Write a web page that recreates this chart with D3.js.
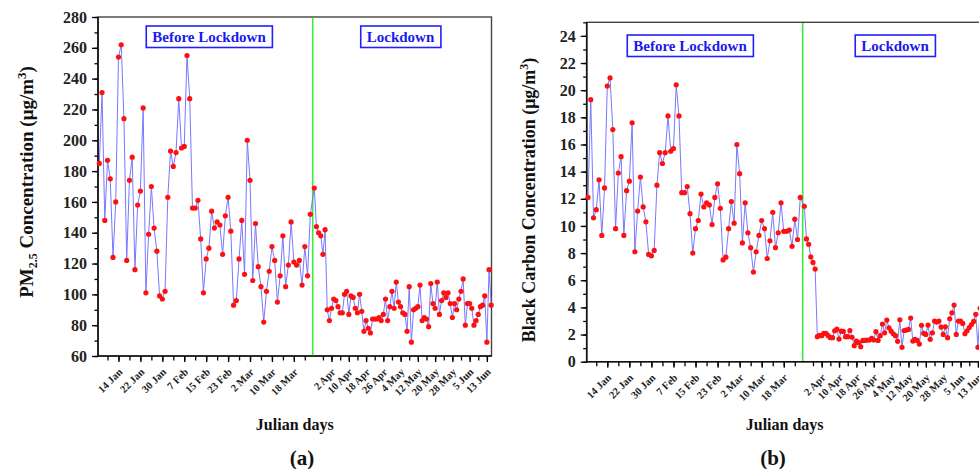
<!DOCTYPE html>
<html>
<head>
<meta charset="utf-8">
<script src="https://cdn.jsdelivr.net/npm/d3@7"></script>
<style>
body { margin: 0; background: #fff; }
svg text { font-family: "Liberation Serif", "Times New Roman", serif; font-weight: bold; }
</style>
</head>
<body>
<svg width="979" height="469"></svg>
<script>
// daily series, 7 Jan -> 15 Jun 2020, lockdown from 25 Mar
var firstDay = "7 Jan 2020", lockdownDay = "25 Mar 2020", lastDay = "15 Jun 2020";

var beforeTickLabels = ["14 Jan", "22 Jan", "30 Jan", "7 Feb", "15 Feb", "23 Feb", "2 Mar", "10 Mar", "18 Mar"];
var lockTickLabels = ["2 Apr", "10 Apr", "18 Apr", "26 Apr", "4 May", "12 May", "20 May", "28 May", "5 Jun", "13 Jun"];

var pmBefore = [185, 231, 148, 187, 175, 124, 160, 254, 262, 214,
  122, 174, 189, 116, 158, 167, 221, 101, 139, 170,
  143, 128, 99, 97, 102, 163, 193, 183, 192, 227,
  195, 196, 255, 227, 156, 156, 161, 136, 101, 123,
  130, 154, 143, 147, 145, 126, 151, 163, 141, 93,
  96, 123, 148, 113, 200, 174, 109, 146, 118, 105,
  82, 102, 115, 131, 122, 95, 112, 138, 105, 119,
  147, 121, 119, 122, 106, 131, 112, 152];
var pmLock = [169, 144, 140, 138, 126, 142, 90, 83, 91, 97,
  96, 92, 88, 88, 100, 102, 87, 99, 98, 91,
  88, 100, 89, 76, 83, 78, 75, 84, 84, 84,
  85, 83, 87, 97, 83, 92, 102, 91, 108, 95,
  92, 88, 87, 76, 105, 69, 90, 91, 92, 106,
  83, 85, 84, 79, 107, 94, 91, 108, 87, 96,
  101, 98, 101, 94, 85, 94, 90, 97, 102, 110,
  80, 94, 94, 91, 80, 83, 87, 92, 93, 99,
  69, 116, 93];

var bcBefore = [12.1, 19.3, 10.6, 11.2, 13.4, 9.3, 12.8, 20.3, 20.9, 17.1,
  9.8, 13.9, 15.1, 9.3, 12.6, 13.3, 17.6, 8.1, 11.1, 13.6,
  11.4, 10.3, 7.9, 7.8, 8.2, 13.0, 15.4, 14.6, 15.4, 18.1,
  15.5, 15.7, 20.4, 18.1, 12.45, 12.45, 12.9, 10.9, 8.0, 9.8,
  10.4, 12.35, 11.4, 11.7, 11.55, 10.1, 12.1, 13.1, 11.3, 7.5,
  7.7, 9.8, 11.8, 10.2, 16.0, 13.85, 8.75, 11.7, 9.5, 8.4,
  6.6, 8.1, 9.3, 10.4, 9.8, 7.6, 8.9, 11.0, 8.4, 9.5,
  11.7, 9.6, 9.6, 9.7, 8.5, 10.5, 9.0, 12.1];
var bcLock = [11.45, 9.04, 8.65, 7.72, 7.31, 6.82, 1.84, 1.94, 1.92, 2.09,
  2.09, 1.92, 1.77, 1.77, 2.28, 2.4, 1.67, 2.25, 2.23, 1.84,
  1.84, 2.3, 1.8, 1.18, 1.52, 1.4, 1.1, 1.57, 1.57, 1.6,
  1.6, 1.72, 1.6, 2.21, 1.57, 1.92, 2.77, 2.13, 3.07, 2.5,
  2.25, 2.06, 1.92, 1.5, 3.09, 1.06, 2.3, 2.33, 2.38, 3.21,
  1.52, 1.64, 1.57, 1.3, 2.68, 2.09, 2.01, 2.7, 1.65, 2.13,
  2.99, 2.92, 2.99, 2.55, 2.01, 2.57, 1.77, 3.16, 3.6, 4.17,
  2.01, 2.99, 2.99, 2.82, 2.06, 2.28, 2.52, 2.74, 2.97, 3.49,
  1.06, 3.93, 3.0];

var pmTicks = [60, 80, 100, 120, 140, 160, 180, 200, 220, 240, 260, 280];
var bcTicks = [0, 2, 4, 6, 8, 10, 12, 14, 16, 18, 20, 22, 24];

var parse = d3.timeParse("%d %b %Y");
var day0 = parse(firstDay), dayL = parse(lockdownDay), day1 = parse(lastDay);
var days = d3.timeDay.range(day0, d3.timeDay.offset(day1, 1));

var svg = d3.select("svg");

function drawPanel(o) {
  var g = svg.append("g");
  var values = o.beforeVals.concat(o.lockVals);
  var pts = days.map(function(d, i) { return {date: d, v: values[i]}; });
  var dayB = d3.timeDay.offset(dayL, -1);

  // the plot compresses the lockdown period a bit
  var x = d3.scaleTime()
      .domain([day0, dayB, dayL, day1])
      .range([o.left + 1.3, o.lockX - 2.4, o.lockX + 1.6, o.right - 0.3]);
  var y = d3.scaleLinear().domain(o.yDomain).range([o.bottom, o.top]);

  // frame
  g.append("rect")
      .attr("x", o.left).attr("y", o.top)
      .attr("width", o.right - o.left).attr("height", o.bottom - o.top)
      .attr("fill", "none").attr("stroke", "#444").attr("stroke-width", 1.4);

  // ticks on x
  var minorDates = d3.timeDay.range(parse("10 Jan 2020"), dayL, 4)
      .concat(d3.timeDay.range(parse("29 Mar 2020"), day1, 4));
  var beforeDates = beforeTickLabels.map(function(s) { return parse(s + " 2020"); });
  var lockDates = lockTickLabels.map(function(s) { return parse(s + " 2020"); });

  g.append("g")
      .attr("transform", "translate(0," + o.bottom + ")")
      .call(d3.axisBottom(x).tickValues(minorDates).tickSize(4.5).tickFormat(""))
      .call(function(a) { a.select(".domain").remove(); a.selectAll("line").attr("stroke-width", 1.3); });
  g.append("g")
      .attr("transform", "translate(0," + o.bottom + ")")
      .call(d3.axisBottom(x).tickValues(beforeDates.concat(lockDates)).tickSize(6).tickFormat(""))
      .call(function(a) { a.select(".domain").remove(); a.selectAll("line").attr("stroke-width", 1.3); });

  g.selectAll(".xlab")
      .data(beforeTickLabels.concat(lockTickLabels))
      .enter().append("text")
      .attr("class", "xlab")
      .attr("transform", function(d) {
        return "translate(" + (x(parse(d + " 2020")) + 2) + "," + (o.bottom + 14) + ") rotate(-45)";
      })
      .attr("text-anchor", "end")
      .attr("dy", "0.35em")
      .attr("font-size", 10.5)
      .attr("fill", "#222")
      .text(function(d) { return d; });

  // y axis
  var minorY = d3.range(o.yDomain[0], o.yDomain[1] + 0.001, o.yMinor);
  g.append("g")
      .attr("transform", "translate(" + o.left + ",0)")
      .call(d3.axisLeft(y).tickValues(minorY).tickSize(3.5).tickFormat(""))
      .call(function(a) { a.select(".domain").remove(); a.selectAll("line").attr("stroke-width", 1.3); });
  g.append("g")
      .attr("transform", "translate(" + o.left + ",0)")
      .call(d3.axisLeft(y).tickValues(o.yTicks).tickSize(6).tickPadding(5))
      .call(function(a) {
        a.select(".domain").remove();
        a.selectAll("line").attr("stroke-width", 1.3);
        a.selectAll("text")
            .attr("font-size", 16)
            .attr("font-family", "'Liberation Serif', serif")
            .attr("fill", "#222");
      });

  // axis lines
  g.append("line").attr("x1", o.left).attr("x2", o.left).attr("y1", o.top).attr("y2", o.bottom + 0.7)
      .attr("stroke", "#111").attr("stroke-width", 1.6);
  g.append("line").attr("x1", o.left).attr("x2", o.right).attr("y1", o.bottom).attr("y2", o.bottom)
      .attr("stroke", "#111").attr("stroke-width", 1.6);

  // lockdown marker
  g.append("line")
      .attr("x1", o.lockX).attr("x2", o.lockX)
      .attr("y1", o.top + 0.7).attr("y2", o.bottom - 0.8)
      .attr("stroke", "#3ee83e").attr("stroke-width", 1.6);

  var line = d3.line()
      .x(function(d) { return x(d.date); })
      .y(function(d) { return y(d.v); });

  g.append("path")
      .datum(pts)
      .attr("d", line)
      .attr("fill", "none")
      .attr("stroke", "#7878ff")
      .attr("stroke-width", 1);

  g.selectAll(".dot")
      .data(pts)
      .enter().append("circle")
      .attr("class", "dot")
      .attr("cx", function(d) { return x(d.date); })
      .attr("cy", function(d) { return y(d.v); })
      .attr("r", 2.6)
      .attr("fill", "#ff1010");

  // period boxes
  [["Before Lockdown", o.boxX[0]], ["Lockdown", o.boxX[1]]].forEach(function(b) {
    var t = g.append("text")
        .attr("x", b[1]).attr("y", o.boxY)
        .attr("text-anchor", "middle")
        .attr("dy", "0.35em")
        .attr("font-size", 15)
        .attr("fill", "#1a1aee")
        .text(b[0]);
    var bb = t.node().getBBox();
    g.insert("rect", function() { return t.node(); })
        .attr("x", bb.x - 6).attr("y", o.boxY - 10.5)
        .attr("width", bb.width + 12).attr("height", 21.5)
        .attr("fill", "#fff").attr("stroke", "#2020ff").attr("stroke-width", 1.6);
  });

  // titles
  var yt = g.append("text")
      .attr("transform", "translate(" + o.yTitleX + "," + o.yTitleY + ") rotate(-90)")
      .attr("text-anchor", "middle")
      .attr("font-size", o.yTitleSize)
      .attr("fill", "#111");
  o.yTitle(yt);

  g.append("text")
      .attr("x", (o.left + o.right) / 2).attr("y", 430)
      .attr("text-anchor", "middle")
      .attr("font-size", 16)
      .attr("fill", "#111")
      .text("Julian days");

  g.append("text")
      .attr("x", o.letterX).attr("y", 465)
      .attr("text-anchor", "middle")
      .attr("font-size", 21)
      .attr("fill", "#111")
      .text(o.letter);
}

drawPanel({
  beforeVals: pmBefore, lockVals: pmLock,
  left: 98, right: 491.5, top: 17, bottom: 356, lockX: 312.7,
  yDomain: [60, 280], yTicks: pmTicks, yMinor: 10,
  boxX: [209, 400.5], boxY: 36.5,
  yTitleX: 33, yTitleY: 182, yTitleSize: 19,
  yTitle: function(t) {
    t.append("tspan").text("PM");
    t.append("tspan").attr("font-size", 12).attr("dy", 4).text("2.5");
    t.append("tspan").attr("dy", -4).text(" Concentration (\u03bcg/m");
    t.append("tspan").attr("font-size", 13).attr("dy", -7).text("3");
    t.append("tspan").attr("dy", 7).text(")");
  },
  letter: "(a)", letterX: 302
});

drawPanel({
  beforeVals: bcBefore, lockVals: bcLock,
  left: 586.7, right: 982.6, top: 22.3, bottom: 361.7, lockX: 802.7,
  yDomain: [0, 25], yTicks: bcTicks, yMinor: 1,
  boxX: [690, 895], boxY: 45.5,
  yTitleX: 535, yTitleY: 200, yTitleSize: 18,
  yTitle: function(t) {
    t.append("tspan").text("Black Carbon Concentration (\u03bcg/m");
    t.append("tspan").attr("font-size", 12).attr("dy", -7).text("3");
    t.append("tspan").attr("dy", 7).text(")");
  },
  letter: "(b)", letterX: 773
});
</script>
</body>
</html>
